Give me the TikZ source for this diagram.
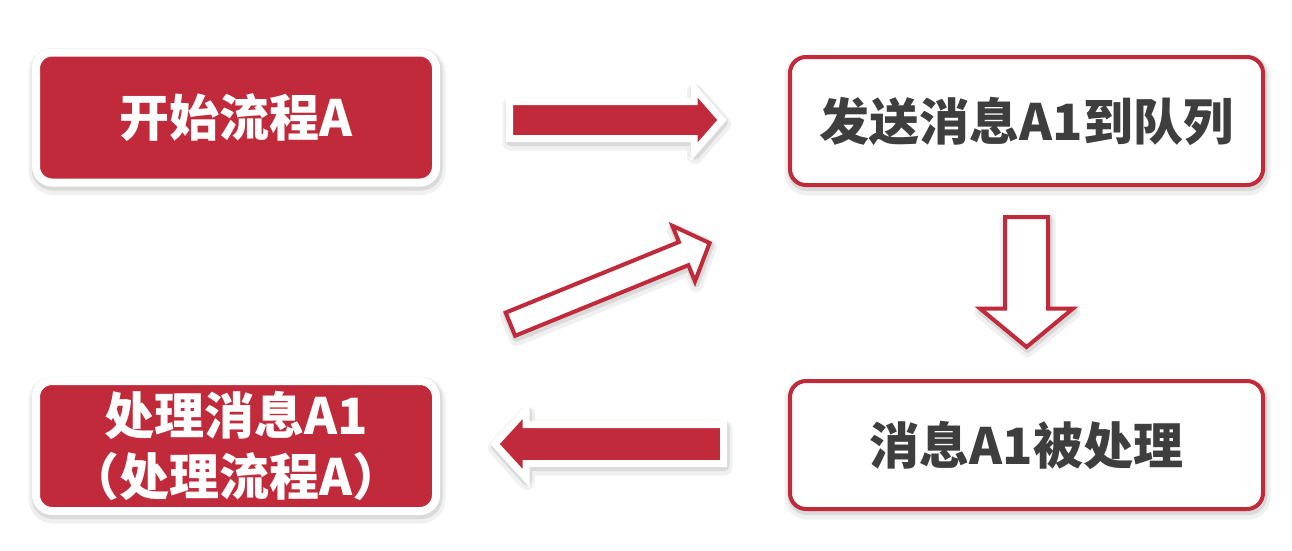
\documentclass[tikz,border=0pt]{standalone}
\usepackage{fontspec}
\newfontfamily\cjk{Noto Sans CJK SC}
\usetikzlibrary{calc}
\definecolor{flowred}{RGB}{193,42,58}
\definecolor{flowgray}{RGB}{62,62,62}

\newcommand{\blockarrow}[6]{%
  \coordinate (head base) at ($(#3)!#6!(#2)$);
  \draw[#1] ($(#2)!#4!90:(#3)$) -- ($(head base)!#4!90:(#3)$) -- ($(head base)!#5!90:(#3)$) -- (#3)
    -- ($(head base)!#5!-90:(#3)$) -- ($(head base)!#4!-90:(#3)$) -- ($(#2)!#4!-90:(#3)$) -- cycle;}

\begin{document}
\begin{tikzpicture}[x=1pt, y=-1pt,
    halo/.style={
        preaction={draw=black, fill=none, draw opacity=.06, line width=#1+9pt, line join=round,
            transform canvas={xshift=1pt, yshift=-4pt}},
        preaction={draw=black, fill=none, draw opacity=.09, line width=#1+3pt, line join=round,
            transform canvas={xshift=1pt, yshift=-2.5pt}}},
    box text/.style={font=\cjk\bfseries\fontsize{50pt}{61pt}\selectfont, inner sep=0pt},
    red box/.style={box text, rectangle, rounded corners=16pt, halo=8pt, fill=flowred, draw=white,
        line width=8pt, text=white, minimum width=400pt, minimum height=130pt},
    white box/.style={box text, rectangle, rounded corners=16pt, halo=4pt, fill=white, draw=flowred,
        line width=4pt, text=flowgray, minimum width=473pt, minimum height=128pt},
    solid arrow/.style={halo=7pt, fill=flowred, draw=white, line width=7pt, line join=miter},
    hollow arrow/.style={halo=4pt, fill=white, draw=flowred, line width=4pt, line join=miter}]
                \useasboundingbox[fill=white] (0,0) rectangle (1292,550);

                \node[red box] (Start A) at (236,117.5) {开始流程A};
                \node[white box] (Send A1) at (1026.5,121) {发送消息A1到队列};
                \node[white box] (A1 Handled) at (1026.5,445) {消息A1被处理};
                \node[red box, align=center] (Handle A1) at (236,446) {处理消息A1\\（处理流程A）};

                \coordinate (Start out) at (509.5,120);
                \coordinate (Send in) at (722,120);
                \coordinate (Send out) at (1026.5,217);
                \coordinate (Handled in) at (1026.5,347);
                \coordinate (Handled out) at (723.5,444);
                \coordinate (Handle in) at (495,444);
                \coordinate (Handle out) at (510.4,324.2);
                \coordinate (Send back) at (709.6,243);

                \blockarrow{solid arrow}{Start out}{Send in}{18.5pt}{32pt}{28pt}
                \blockarrow{hollow arrow}{Send out}{Handled in}{21.5pt}{46.5pt}{38.5pt}
                \blockarrow{solid arrow}{Handled out}{Handle in}{19.5pt}{34pt}{31pt}
                \blockarrow{hollow arrow}{Handle out}{Send back}{12.5pt}{30pt}{28pt}

            \end{tikzpicture}
\end{document}
